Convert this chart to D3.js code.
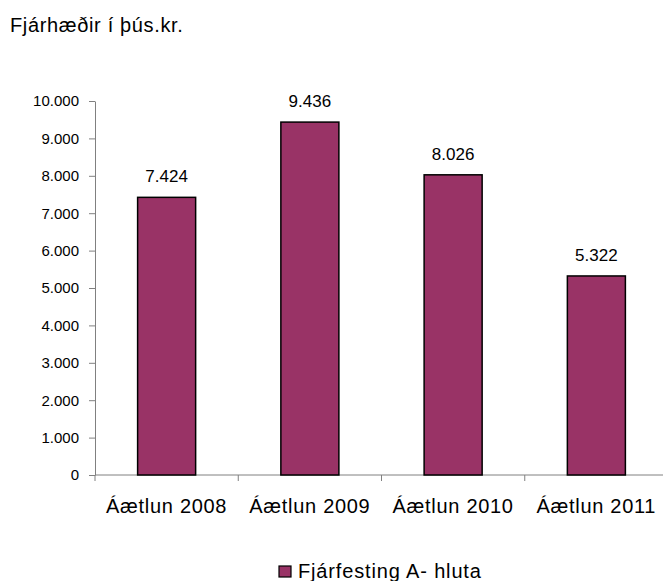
<!DOCTYPE html>
<html><head><meta charset="utf-8">
<script src="https://cdn.jsdelivr.net/npm/d3@7"></script>
<style>body{margin:0;background:#fff;} svg{display:block;font-family:"Liberation Sans",Arial,sans-serif;}</style>
</head><body>
<svg id="c" width="663" height="581"></svg>
<script>
const categories = ["Áætlun 2008","Áætlun 2009","Áætlun 2010","Áætlun 2011"];
const values = [7424, 9436, 8026, 5322];
const valueLabels = ["7.424","9.436","8.026","5.322"];
const yTicks = [0,1000,2000,3000,4000,5000,6000,7000,8000,9000,10000];
const yTickLabels = ["0","1.000","2.000","3.000","4.000","5.000","6.000","7.000","8.000","9.000","10.000"];
const seriesName = "Fjárfesting A- hluta";
const title = "Fjárhæðir í þús.kr.";

const svg = d3.select("#c");
const x = d3.scaleBand().domain(categories).range([95, 668]).paddingInner(0.595).paddingOuter(0.2975);
const y = d3.scaleLinear().domain([0,10000]).range([475, 101]);
const col = "#993366";

svg.append("text").attr("x",10).attr("y",32).attr("font-size",20).attr("letter-spacing",0.65).attr("fill","#000").text(title);

const ya = svg.append("g").attr("transform","translate(95,0)")
  .call(d3.axisLeft(y).tickValues(yTicks).tickSize(6).tickSizeOuter(0).tickFormat((d,i)=>yTickLabels[i]));
ya.select(".domain").attr("stroke","#808080");
ya.selectAll(".tick line").attr("stroke","#808080");
ya.selectAll(".tick text").attr("font-size",15).attr("fill","#000").attr("font-family","Liberation Sans, Arial, sans-serif").attr("x",-16);

const bandStep = x.step();
const xa = svg.append("g").attr("transform","translate(0,475)");
xa.append("line").attr("x1",95).attr("x2",668).attr("y1",0).attr("y2",0).attr("stroke","#808080");
const tickXs = [0,1,2,3,4].map(i => x.range()[0] + i*bandStep);
xa.selectAll("line.t").data(tickXs).join("line").attr("class","t")
  .attr("x1",d=>d).attr("x2",d=>d).attr("y1",0).attr("y2",6).attr("stroke","#808080");
xa.selectAll("text").data(categories).join("text")
  .attr("x",d=>x(d)+x.bandwidth()/2).attr("y",38).attr("text-anchor","middle")
  .attr("font-size",20).attr("letter-spacing",0.7).attr("fill","#000").text(d=>d);

svg.selectAll("rect.bar").data(values).join("rect").attr("class","bar")
  .attr("x",(d,i)=>x(categories[i])).attr("width",x.bandwidth())
  .attr("y",d=>y(d)).attr("height",d=>y(0)-y(d))
  .attr("fill",col).attr("stroke","#000").attr("stroke-width",1.5);

svg.selectAll("text.vl").data(values).join("text").attr("class","vl")
  .attr("x",(d,i)=>x(categories[i])+x.bandwidth()/2).attr("y",d=>y(d)-15)
  .attr("text-anchor","middle").attr("font-size",17).attr("fill","#000")
  .text((d,i)=>valueLabels[i]);

const lg = svg.append("g");
lg.append("rect").attr("x",279).attr("y",566).attr("width",12).attr("height",11)
  .attr("fill",col).attr("stroke","#000").attr("stroke-width",1.2);
lg.append("text").attr("x",298).attr("y",578).attr("font-size",20).attr("letter-spacing",0.85).attr("fill","#000").text(seriesName);
</script>
</body></html>
